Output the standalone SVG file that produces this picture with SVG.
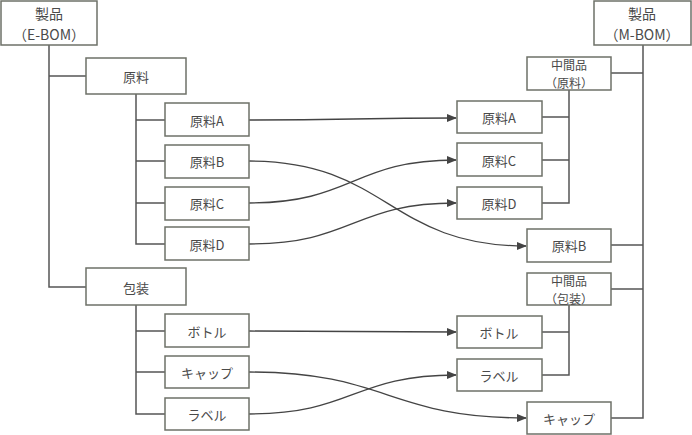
<svg xmlns="http://www.w3.org/2000/svg" width="692" height="435" viewBox="0 0 692 435">
<style>
.box{fill:#fff;stroke:#6e7168;stroke-width:1.5}
.t{font-family:"Noto Sans CJK JP","Noto Sans",sans-serif;font-size:13px;fill:#4a4a4a;text-anchor:middle;dominant-baseline:central}
.tl{font-size:14px}
.ts{font-size:12px}
.ln{fill:none;stroke:#555;stroke-width:1.5}
.ar{fill:none;stroke:#444;stroke-width:1.3;marker-end:url(#ah)}
</style>
<defs>
<marker id="ah" markerWidth="10" markerHeight="8" refX="9" refY="4" orient="auto" markerUnits="userSpaceOnUse">
<path d="M0,0 L10,4 L0,8 Z" fill="#444"/>
</marker>
</defs>
<rect width="692" height="435" fill="#fff"/>
<g id="connectors">
<path class="ln" d="M49,45 V287 H86 M49,76 H86"/>
<path class="ln" d="M136,94 V244 H165 M136,120 H165 M136,161 H165 M136,203 H165"/>
<path class="ln" d="M136,305 V414 H165 M136,331 H165 M136,372 H165"/>
<path class="ln" d="M643,45 V418 H611 M643,73 H611 M643,245 H611 M643,289 H611"/>
<path class="ln" d="M569,90 V203 H542 M569,117 H542 M569,160 H542"/>
<path class="ln" d="M569,305 V375 H542 M569,332 H542"/>
<path class="ar" d="M249,120 C353,120 353,118 456,118"/>
<path class="ar" d="M249,161 C388,161 388,246 526,246"/>
<path class="ar" d="M249,203 C353,203 353,160 456,160"/>
<path class="ar" d="M249,244 C353,244 353,203 456,203"/>
<path class="ar" d="M249,331 C353,331 353,332 456,332"/>
<path class="ar" d="M249,372 C388,372 388,418 526,418"/>
<path class="ar" d="M249,414 C353,414 353,375 456,375"/>
</g>
<g id="ebom"><rect class="box" x="1" y="1" width="96" height="44"/><text class="t tl" x="49" y="13">製品</text><text class="t tl" x="49" y="33.5">（E-BOM）</text></g>
<g id="genryo"><rect class="box" x="86" y="58" width="100" height="36"/><text class="t" x="136" y="76">原料</text></g>
<g id="l-a"><rect class="box" x="165" y="103" width="84" height="33"/><text class="t" x="207" y="120">原料A</text></g>
<g id="l-b"><rect class="box" x="165" y="145" width="84" height="33"/><text class="t" x="207" y="161">原料B</text></g>
<g id="l-c"><rect class="box" x="165" y="187" width="84" height="33"/><text class="t" x="207" y="203">原料C</text></g>
<g id="l-d"><rect class="box" x="165" y="227" width="84" height="33"/><text class="t" x="207" y="244">原料D</text></g>
<g id="hoso"><rect class="box" x="86" y="268" width="100" height="37"/><text class="t" x="136" y="287">包装</text></g>
<g id="l-bottle"><rect class="box" x="165" y="314" width="84" height="33"/><text class="t" x="207" y="331">ボトル</text></g>
<g id="l-cap"><rect class="box" x="165" y="356" width="84" height="32"/><text class="t" x="207" y="372">キャップ</text></g>
<g id="l-label"><rect class="box" x="165" y="398" width="84" height="32"/><text class="t" x="207" y="414">ラベル</text></g>
<g id="mbom"><rect class="box" x="594" y="1" width="97" height="44"/><text class="t tl" x="642" y="13">製品</text><text class="t tl" x="642" y="33.5">（M-BOM）</text></g>
<g id="mid-genryo"><rect class="box" x="527" y="57" width="84" height="33"/><text class="t ts" x="569" y="64.5">中間品</text><text class="t ts" x="569" y="82">（原料）</text></g>
<g id="r-a"><rect class="box" x="457" y="101" width="85" height="32"/><text class="t" x="499" y="117">原料A</text></g>
<g id="r-c"><rect class="box" x="457" y="143" width="85" height="33"/><text class="t" x="499" y="160">原料C</text></g>
<g id="r-d"><rect class="box" x="457" y="187" width="85" height="32"/><text class="t" x="499" y="203">原料D</text></g>
<g id="r-b"><rect class="box" x="527" y="229" width="84" height="33"/><text class="t" x="569" y="245">原料B</text></g>
<g id="mid-hoso"><rect class="box" x="527" y="273" width="84" height="32"/><text class="t ts" x="569" y="280.5">中間品</text><text class="t ts" x="569" y="298">（包装）</text></g>
<g id="r-bottle"><rect class="box" x="457" y="316" width="85" height="32"/><text class="t" x="499" y="332">ボトル</text></g>
<g id="r-label"><rect class="box" x="457" y="359" width="85" height="32"/><text class="t" x="499" y="375">ラベル</text></g>
<g id="r-cap"><rect class="box" x="527" y="402" width="84" height="32"/><text class="t" x="569" y="418">キャップ</text></g>
</svg>
